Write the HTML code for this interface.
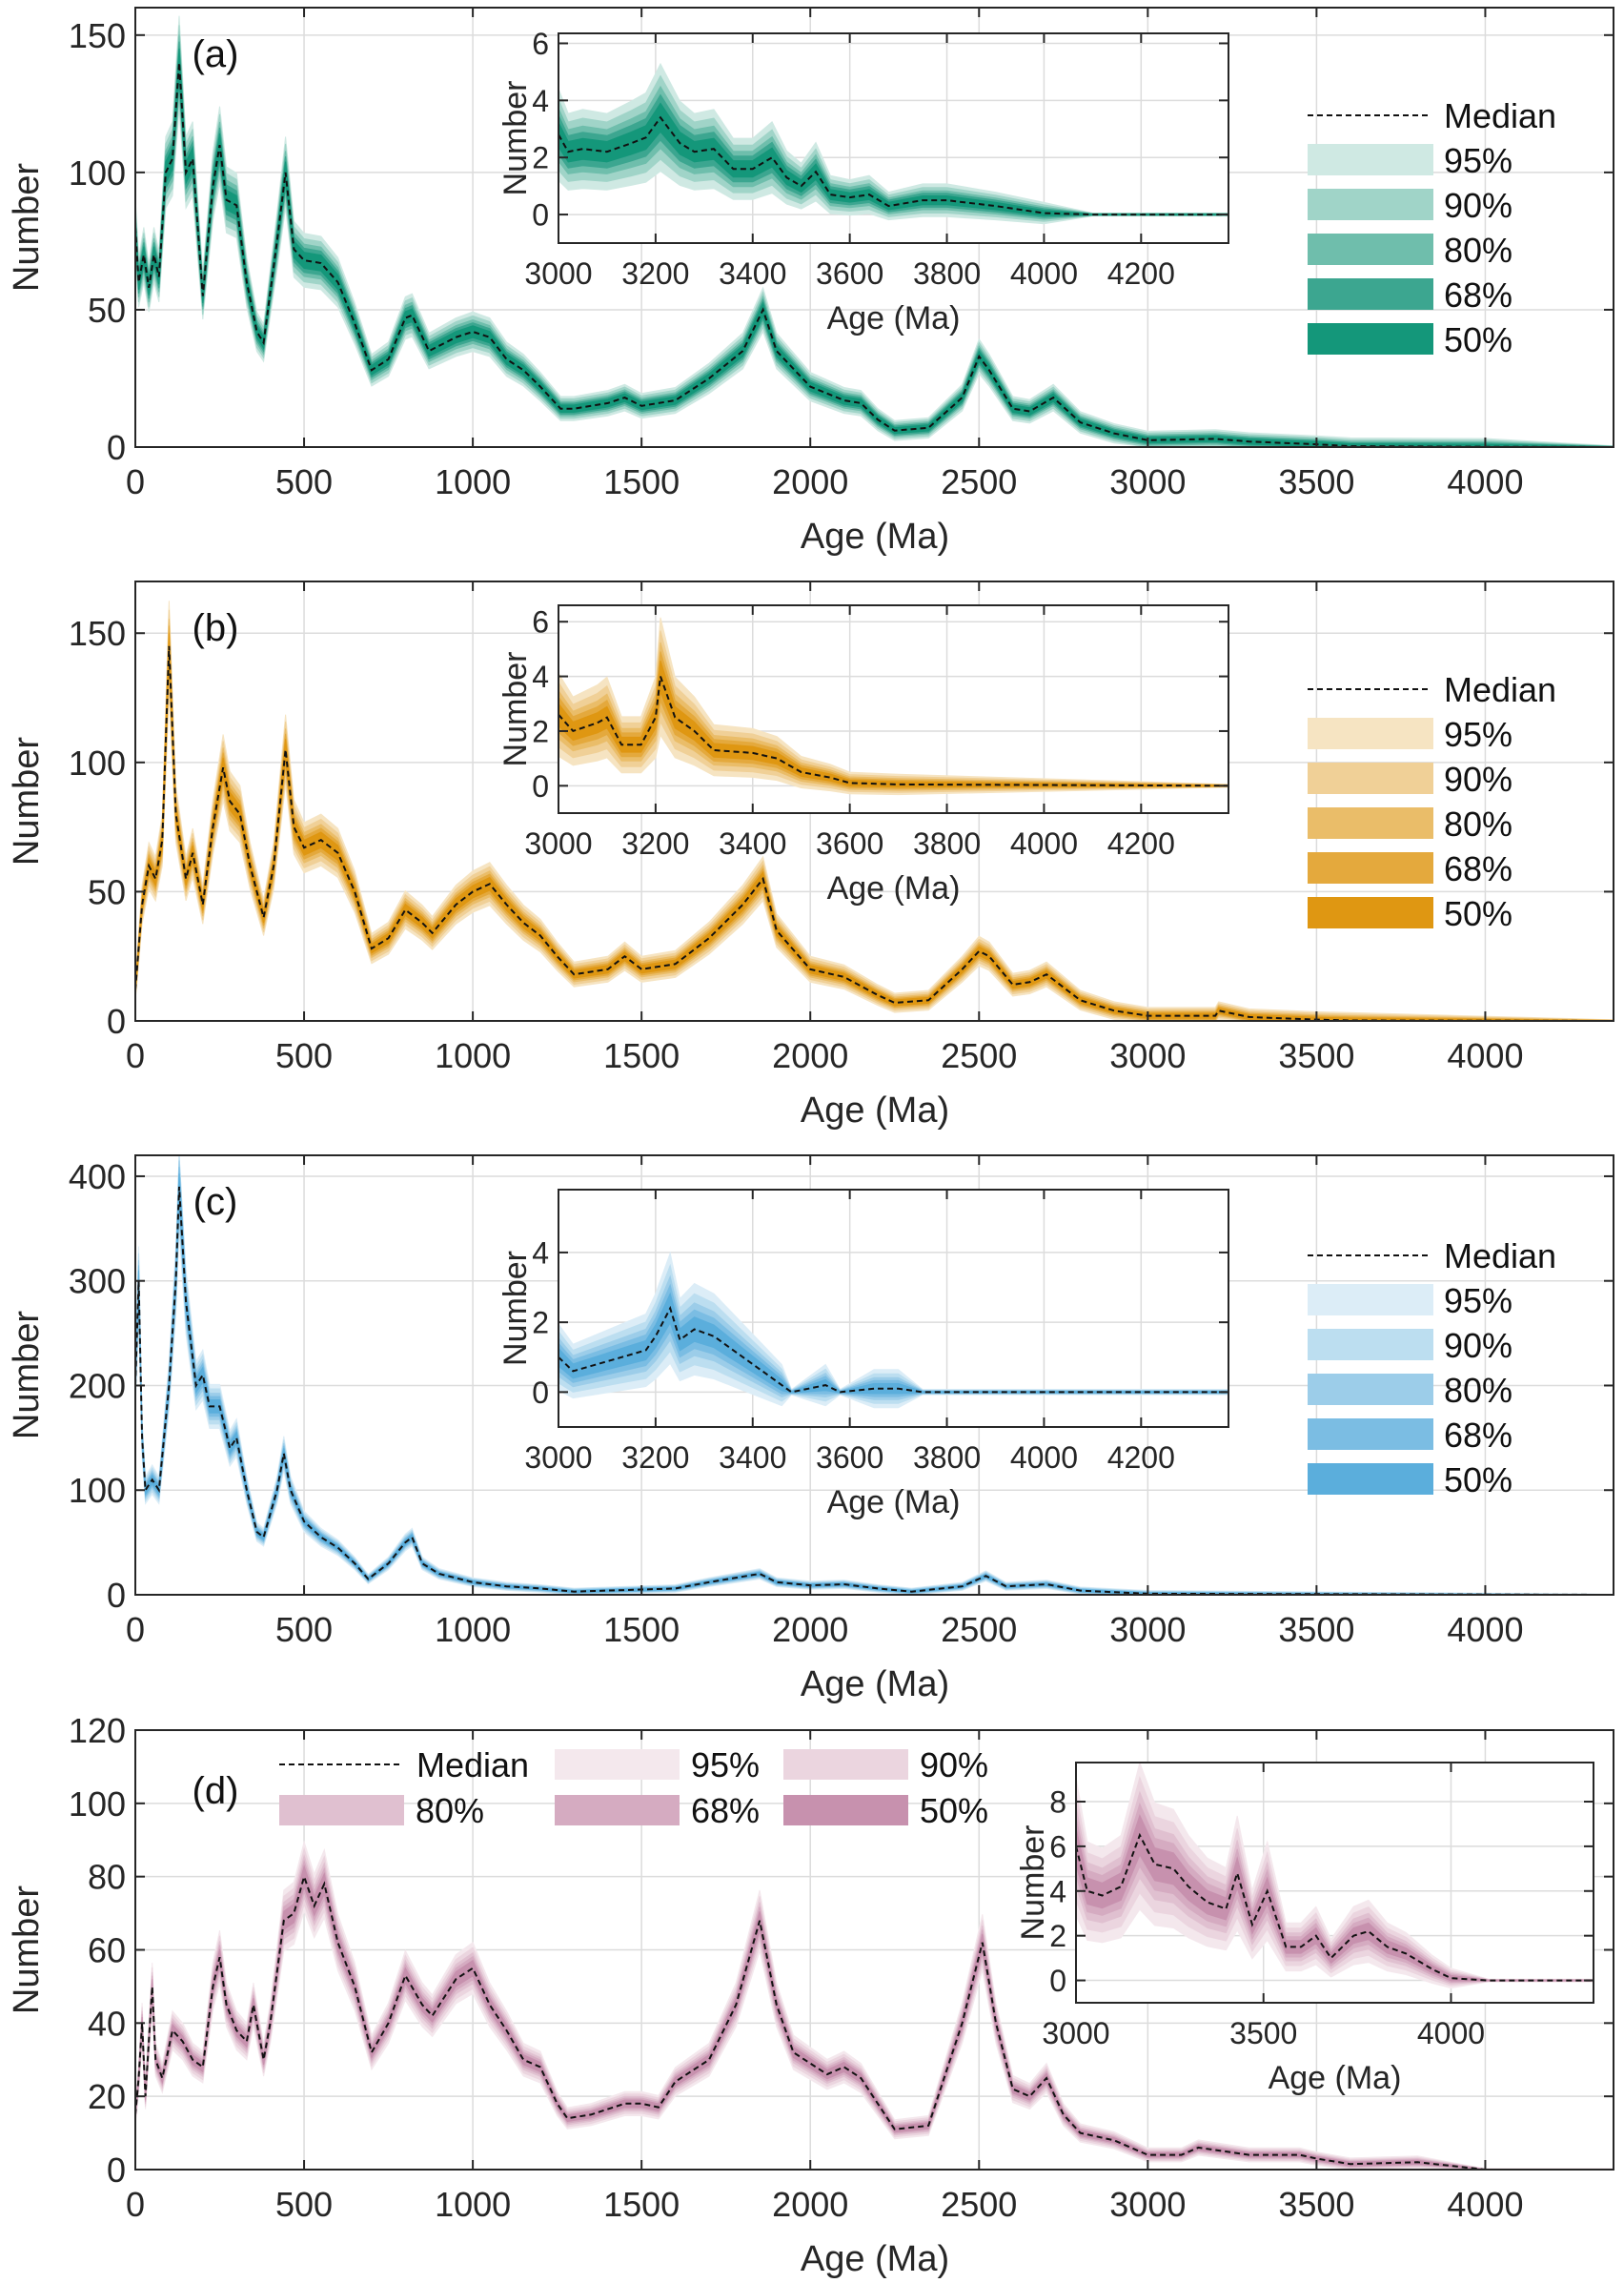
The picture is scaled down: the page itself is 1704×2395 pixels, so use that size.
<!DOCTYPE html>
<html><head><meta charset="utf-8">
<style>
html,body{margin:0;padding:0;background:#fff;}
svg{display:block;font-family:"Liberation Sans",Arial,sans-serif;}
</style></head>
<body>
<svg id="fig" width="1704" height="2395" viewBox="0 0 1704 2395" xmlns="http://www.w3.org/2000/svg"></svg>
<script>
// ===== Data (Ma, Number) =====
const aAge=[0,10,25,40,55,70,90,110,130,150,170,200,230,250,270,300,330,360,380,420,445,470,500,550,600,650,700,750,800,820,870,950,1000,1050,1100,1150,1200,1260,1300,1400,1450,1500,1600,1700,1800,1860,1900,2000,2100,2150,2200,2250,2350,2450,2500,2530,2600,2650,2720,2800,2900,3000,3200,3300,3400,3500,3600,4000,4380];
const aMed=[80,60,70,58,70,62,100,105,140,100,105,55,95,110,90,88,60,42,38,75,100,72,68,67,60,45,28,32,47,48,35,40,42,40,32,28,22,14,14,16,18,15,17,25,35,50,35,22,17,16,10,6,7,18,33,28,14,13,18,9,5,2.5,3,2,1.5,1,0.3,0.1,0];
const aInAge=[3000,3020,3050,3100,3150,3180,3210,3250,3280,3320,3360,3400,3440,3470,3500,3530,3560,3600,3640,3680,3750,3800,3900,4000,4100,4380];
const aInMed=[2.8,2.2,2.3,2.2,2.5,2.7,3.4,2.5,2.2,2.3,1.6,1.6,2,1.3,1.0,1.5,0.7,0.6,0.7,0.3,0.5,0.5,0.3,0.05,0,0];

const bAge=[0,20,40,60,80,100,120,150,170,200,230,260,280,310,340,380,410,445,470,500,550,600,650,700,750,800,850,880,950,1000,1050,1100,1150,1200,1250,1300,1400,1450,1500,1600,1700,1800,1860,1900,2000,2100,2200,2250,2350,2450,2500,2530,2600,2650,2700,2800,2900,3000,3200,3210,3300,3500,3600,4380];
const bMed=[12,45,60,55,70,145,80,55,65,45,75,98,85,80,60,40,60,105,75,67,70,65,50,28,32,43,38,34,45,50,53,45,38,33,25,18,20,25,20,22,32,45,55,35,20,17,10,7,8,20,27,25,14,15,18,8,4,2,2,4,1.5,0.5,0.2,0];
const bInAge=[3000,3030,3080,3100,3130,3170,3200,3210,3240,3280,3320,3400,3450,3500,3560,3600,3700,4380];
const bInMed=[2.6,2,2.3,2.5,1.5,1.5,2.5,4,2.5,2,1.3,1.2,1,0.5,0.3,0.1,0.05,0];

const cAge=[0,10,20,30,50,70,100,120,130,150,180,200,220,250,280,300,330,360,380,420,440,460,500,550,600,650,690,750,800,820,850,900,1000,1100,1200,1300,1500,1600,1700,1850,1900,2000,2100,2200,2300,2450,2520,2580,2700,2800,3000,4380];
const cMed=[200,300,150,100,110,100,200,300,390,280,200,210,180,180,140,150,100,60,55,100,135,100,70,55,45,30,15,30,50,55,30,20,12,8,6,3,5,6,12,20,12,9,10,6,3,8,18,8,10,4,1,0];
const cInAge=[3000,3030,3080,3130,3180,3200,3230,3250,3280,3320,3380,3420,3460,3480,3550,3580,3650,3700,3750,4380];
const cInMed=[1,0.6,0.8,1,1.2,1.6,2.4,1.5,1.8,1.6,1,0.6,0.2,0,0.2,0,0.1,0.1,0,0];

const dAge=[0,10,20,30,50,60,80,110,140,170,200,230,250,270,300,330,350,380,400,440,470,500,530,560,600,650,700,750,800,850,880,950,1000,1050,1100,1150,1200,1250,1280,1350,1450,1500,1550,1600,1700,1780,1850,1900,1950,2050,2100,2150,2200,2250,2350,2450,2510,2550,2600,2650,2700,2750,2800,2900,3000,3100,3150,3300,3450,3500,3600,3800,4000,4380];
const dMed=[15,25,40,20,50,30,25,38,35,30,28,50,58,45,38,35,45,30,40,68,70,80,72,78,62,50,32,40,53,45,42,52,55,45,38,30,28,18,14,15,18,18,17,24,30,45,68,45,32,26,28,25,18,11,12,40,62,40,22,20,25,15,10,8,4,4,6,4,4,3,1.5,2,0,0];
const dInAge=[3000,3030,3070,3120,3170,3210,3260,3300,3350,3400,3430,3470,3510,3560,3600,3640,3680,3740,3780,3830,3880,3950,4000,4100,4380];
const dInMed=[6,4,3.8,4.2,6.5,5.2,5,4.2,3.5,3.2,4.8,2.5,4,1.5,1.5,2,1,2,2.2,1.5,1.2,0.5,0.1,0,0];

// band relative half-widths for 95,90,80,68,50 %
const bandLevels=["95%","90%","80%","68%","50%"];
const bandRel=[0.1,0.08,0.06,0.045,0.03];
const inBandRel=[0.45,0.35,0.26,0.19,0.12];

const mainXTicks=[0,500,1000,1500,2000,2500,3000,3500,4000];
const insetXTicks=[3000,3200,3400,3600,3800,4000,4200];
const insetXTicksD=[3000,3500,4000];

// ===== drawing =====
const NS="http://www.w3.org/2000/svg";
const svg=document.getElementById('fig');
function el(tag,attrs,parent){const e=document.createElementNS(NS,tag);for(const k in attrs)e.setAttribute(k,attrs[k]);(parent||svg).appendChild(e);return e;}
function txt(s,attrs,parent){const e=el('text',attrs,parent);e.textContent=s;return e;}

function axes(g,box,xr,yr,xt,yt,fs,name){
  const sx=v=>box.x+(v-xr[0])/(xr[1]-xr[0])*box.w;
  const sy=v=>box.y+box.h-(v-yr[0])/(yr[1]-yr[0])*box.h;
  el('rect',{x:box.x,y:box.y,width:box.w,height:box.h,fill:'#fff'},g);
  const grid=el('g',{stroke:'#dcdcdc','stroke-width':1.5},g);
  
  
  xt.forEach(v=>el('line',{x1:sx(v),x2:sx(v),y1:box.y,y2:box.y+box.h},grid));
  yt.forEach(v=>el('line',{x1:box.x,x2:box.x+box.w,y1:sy(v),y2:sy(v)},grid));
  return {sx,sy};
}
function frame(g,box,sx,sy,xt,yt,fs,xlabY,name){
  el('rect',{x:box.x,y:box.y,width:box.w,height:box.h,fill:'none',stroke:'#262626','stroke-width':2},g);
  const tk=el('g',{stroke:'#262626','stroke-width':2},g);
  xt.forEach(v=>{el('line',{x1:sx(v),x2:sx(v),y1:box.y+box.h,y2:box.y+box.h-10},tk);el('line',{x1:sx(v),x2:sx(v),y1:box.y,y2:box.y+10},tk);});
  yt.forEach(v=>{el('line',{x1:box.x,x2:box.x+10,y1:sy(v),y2:sy(v)},tk);el('line',{x1:box.x+box.w,x2:box.x+box.w-10,y1:sy(v),y2:sy(v)},tk);});
  const xl=el('g',{'font-size':fs,fill:'#262626','text-anchor':'middle'},g);
  
  
  xt.forEach(v=>txt(String(v),{x:sx(v),y:xlabY},xl));
  const yl=el('g',{'font-size':fs,fill:'#262626','text-anchor':'end'},g);
  
  
  yt.forEach(v=>txt(String(v),{x:box.x-10,y:sy(v)+fs*0.36},yl));
}
function series(g,age,med,rel,absw,colors,sx,sy,yr,name){
  for(let k=0;k<5;k++){
    let up=[],lo=[];
    for(let i=0;i<age.length;i++){
      const w=med[i]*rel[k]+absw*(rel[k]/rel[0])*(med[i]>0?1:0.15);
      up.push(sx(age[i]).toFixed(1)+','+sy(Math.min(yr[1],med[i]+w)).toFixed(1));
      lo.push(sx(age[i]).toFixed(1)+','+sy(Math.max(yr[0],med[i]-w)).toFixed(1));
    }
    const p=el('polygon',{points:up.concat(lo.reverse()).join(' '),fill:colors[k],stroke:colors[k],'stroke-width':1},g);
    
    
  }
  const pts=age.map((a,i)=>sx(a).toFixed(1)+','+sy(med[i]).toFixed(1)).join(' ');
  const l=el('polyline',{points:pts,fill:'none',stroke:'#111','stroke-width':2,'stroke-dasharray':'6,4'},g);
  
  
}

function panel(cfg){
  const g=el('g',{});
  
  
  const box={x:142,y:cfg.top,w:1551,h:461};
  const xr=[0,4380],yr=[0,cfg.ymax];
  const {sx,sy}=axes(g,box,xr,yr,mainXTicks,cfg.yt,36,'main-'+cfg.id);
  series(g,cfg.age,cfg.med,bandRel,cfg.absw,cfg.colors,sx,sy,yr,'main-'+cfg.id);
  frame(g,box,sx,sy,mainXTicks,cfg.yt,36,box.y+box.h+49,'main-'+cfg.id);
  const yt=txt('Number',{x:0,y:0,'font-size':38,fill:'#262626','text-anchor':'middle',transform:`translate(40,${box.y+box.h/2}) rotate(-90)`},g);
  
  
  const xt=txt('Age (Ma)',{x:918,y:box.y+box.h+106,'font-size':38,fill:'#262626','text-anchor':'middle'},g);
  
  
  const lb=txt('('+cfg.id+')',{x:cfg.lx,y:cfg.ly,'font-size':40,fill:'#111','text-anchor':'middle'},g);
  
  
  // inset
  const ib=cfg.ibox, ixr=[3000,4380], iyr=cfg.iyr;
  const ig=el('g',{},g);
  
  
  const ia=axes(ig,ib,ixr,iyr,cfg.ixt,cfg.iyt,32,'inset-'+cfg.id);
  series(ig,cfg.iage,cfg.imed,inBandRel,cfg.iabsw,cfg.colors,ia.sx,ia.sy,iyr,'inset-'+cfg.id);
  frame(ig,ib,ia.sx,ia.sy,cfg.ixt,cfg.iyt,32,ib.y+ib.h+43,'inset-'+cfg.id);
  const iyt=txt('Number',{x:0,y:0,'font-size':34,fill:'#262626','text-anchor':'middle',transform:`translate(${ib.x-34},${ib.y+ib.h/2}) rotate(-90)`},ig);
  
  
  const ixt=txt('Age (Ma)',{x:ib.x+ib.w/2,y:ib.y+ib.h+90,'font-size':34,fill:'#262626','text-anchor':'middle'},ig);
  
  
  // legend
  const lg=el('g',{},g);
  
  
  cfg.legend(lg);
}
function vertLegend(top,colors){
  return function(lg){
    el('line',{x1:1372,x2:1500,y1:top+113,y2:top+113,stroke:'#111','stroke-width':2,'stroke-dasharray':'6,4'},lg);
    txt('Median',{x:1515,y:top+126,'font-size':36,fill:'#111'},lg);
    for(let k=0;k<5;k++){
      const y=top+143+47*k;
      const r=el('rect',{x:1372,y:y,width:132,height:33,fill:colors[k]},lg);
      
      
      txt(bandLevels[k],{x:1515,y:y+30,'font-size':36,fill:'#111'},lg);
    }
  };
}
const teal=['#cfe9e3','#a0d4c8','#6fbeac','#3ca690','#14977a'];
const orange=['#f6e4c2','#f0d097','#eabd69','#e4a93d','#df9712'];
const blue=['#dcedf7','#bcdef0','#9ccde9','#7bbde3','#5baedc'];
const pink=['#f4e8ed','#ebd5df','#e0c0d0','#d5abc1','#c791ae'];

panel({id:'a',top:8,ymax:160,yt:[0,50,100,150],age:aAge,med:aMed,absw:3,colors:teal,lx:226,ly:70,
  ibox:{x:586,y:35,w:703,h:220},iyr:[-1,6.35],iyt:[0,2,4,6],ixt:insetXTicks,iage:aInAge,imed:aInMed,iabsw:0.35,legend:vertLegend(8,teal)});
panel({id:'b',top:610,ymax:170,yt:[0,50,100,150],age:bAge,med:bMed,absw:3,colors:orange,lx:226,ly:672,
  ibox:{x:586,y:635,w:703,h:218},iyr:[-1,6.6],iyt:[0,2,4,6],ixt:insetXTicks,iage:bInAge,imed:bInMed,iabsw:0.35,legend:vertLegend(610,orange)});
panel({id:'c',top:1212,ymax:420,yt:[0,100,200,300,400],age:cAge,med:cMed,absw:3,colors:blue,lx:226,ly:1274,
  ibox:{x:586,y:1248,w:703,h:249},iyr:[-1,5.8],iyt:[0,2,4],ixt:insetXTicks,iage:cInAge,imed:cInMed,iabsw:0.5,legend:vertLegend(1204,blue)});
panel({id:'d',top:1815,ymax:120,yt:[0,20,40,60,80,100,120],age:dAge,med:dMed,absw:1.5,colors:pink,lx:226,ly:1892,
  ibox:{x:1129,y:1849,w:543,h:252},iyr:[-1,9.75],iyt:[0,2,4,6,8],ixt:insetXTicksD,iage:dInAge,imed:dInMed,iabsw:0.4,
  legend:function(lg){
    el('line',{x1:293,x2:423,y1:1851,y2:1851,stroke:'#111','stroke-width':2,'stroke-dasharray':'6,4'},lg);
    txt('Median',{x:437,y:1864,'font-size':36,fill:'#111'},lg);
    const pos=[[582,1835],[822,1835],[293,1883],[582,1883],[822,1883]];
    for(let k=0;k<5;k++){
      const r=el('rect',{x:pos[k][0],y:pos[k][1],width:131,height:32,fill:pink[k]},lg);
      
      
      txt(bandLevels[k],{x:pos[k][0]+143,y:pos[k][1]+29,'font-size':36,fill:'#111'},lg);
    }
  }});
</script>
</body></html>
